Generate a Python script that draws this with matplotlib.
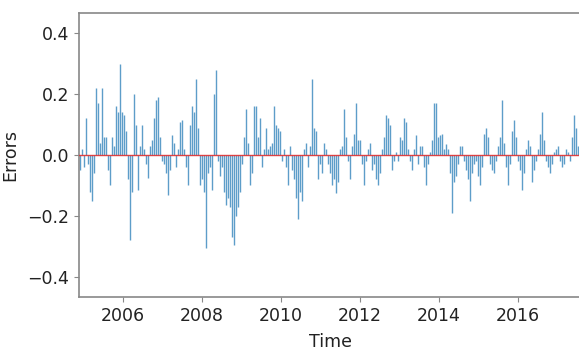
import matplotlib
matplotlib.use("Agg")
import matplotlib.pyplot as plt
import matplotlib.dates as mdates
import pandas as pd

# residuals, one every ~18.5 days starting late Nov 2004
start_date = "2004-11-29"
step = "444h"
errors = [
    -0.05, 0.02, -0.04, 0.12, -0.03, -0.12, -0.15, -0.06, 0.22, 0.17,
    0.04, 0.22, 0.06, 0.06, -0.05, -0.10, 0.06, 0.03, 0.16, 0.14,
    0.30, 0.14, 0.13, 0.08, -0.08, -0.28, -0.12, 0.20, 0.10, -0.115,
    0.03, 0.10, 0.02, -0.03, -0.075, 0.03, 0.05, 0.12, 0.18, 0.19,
    0.06, -0.02, -0.03, -0.06, -0.13, -0.05, 0.065, 0.04, -0.04, 0.02,
    0.11, 0.115, 0.02, -0.04, -0.10, 0.10, 0.16, 0.14, 0.25, 0.09,
    -0.10, -0.08, -0.12, -0.305, -0.06, -0.04, -0.115, 0.20, 0.28, -0.02,
    -0.07, -0.04, -0.12, -0.165, -0.14, -0.17, -0.27, -0.295, -0.20, -0.17,
    -0.12, -0.03, 0.06, 0.15, 0.04, -0.10, -0.06, 0.16, 0.16, 0.06,
    0.12, -0.04, 0.02, 0.09, 0.02, 0.03, 0.04, 0.16, 0.10, 0.09,
    0.08, -0.02, 0.02, -0.04, -0.10, 0.03, -0.05, -0.08, -0.14, -0.21,
    -0.12, -0.15, 0.02, 0.04, -0.04, 0.03, 0.25, 0.09, 0.08, -0.08,
    -0.03, -0.06, 0.04, 0.02, -0.03, -0.06, -0.10, -0.08, -0.125, -0.09,
    0.02, 0.03, 0.15, 0.06, -0.02, -0.08, 0.03, 0.07, 0.17, 0.05,
    0.05, -0.03, -0.10, -0.02, 0.02, 0.04, -0.05, -0.03, -0.08, -0.10,
    -0.06, 0.02, 0.06, 0.13, 0.12, 0.10, -0.05, -0.02, 0.01, -0.02,
    0.06, 0.05, 0.12, 0.11, 0.02, -0.02, -0.05, 0.02, 0.065, -0.03,
    0.03, 0.03, -0.04, -0.10, -0.03, 0.01, 0.05, 0.17, 0.17, 0.06,
    0.065, 0.07, 0.02, 0.035, 0.02, -0.06, -0.19, -0.09, -0.07, -0.03,
    0.03, 0.03, -0.02, -0.05, -0.08, -0.15, -0.06, -0.03, -0.02, -0.07,
    -0.10, -0.04, 0.07, 0.09, 0.06, -0.03, -0.05, -0.06, -0.02, 0.03,
    0.06, 0.18, 0.04, -0.04, -0.10, -0.03, 0.08, 0.115, 0.06, -0.02,
    -0.05, -0.115, -0.06, 0.02, 0.05, 0.03, -0.09, -0.05, -0.02, 0.02,
    0.07, 0.14, 0.05, -0.02, -0.04, -0.06, -0.03, 0.01, 0.02, 0.03,
    -0.02, -0.04, -0.03, 0.02, 0.01, -0.02, 0.06, 0.13, 0.09, 0.03,
]
yticks = [-0.4, -0.2, 0.0, 0.2, 0.4]

dates = pd.date_range(start_date, periods=len(errors), freq=step)

fig = plt.figure(figsize=(5.79, 3.53), dpi=100)
ax = fig.add_axes([0.1364, 0.1586, 0.869, 0.8045])

ax.vlines(dates, 0, errors, color="#1f77b4", lw=1.0, alpha=0.72, zorder=2)
ax.axhline(0, color="#e03030", lw=1.0, alpha=0.9, zorder=3)

ax.set_xlim(pd.Timestamp("2004-11-20"), pd.Timestamp("2017-08-15"))
ax.set_ylim(-0.466, 0.466)
ax.set_yticks(yticks)
ax.xaxis.set_major_locator(mdates.YearLocator(2))
ax.xaxis.set_major_formatter(mdates.DateFormatter("%Y"))

ax.tick_params(labelsize=12.5, colors="#222222", length=3.5, color="#888888")
for s in ax.spines.values():
    s.set_color("#888888")
    s.set_linewidth(1.2)

ax.set_xlabel("Time", fontsize=12.5, color="#222222", labelpad=6)
ax.set_ylabel("Errors", fontsize=12.5, color="#222222", labelpad=6)

fig.savefig("out.png", dpi=100, facecolor="white")
